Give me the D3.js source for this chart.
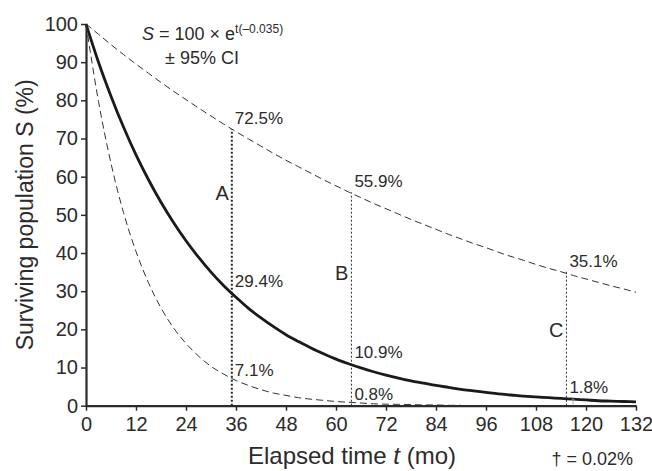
<!DOCTYPE html>
<html>
<head>
<meta charset="utf-8">
<script src="https://cdn.jsdelivr.net/npm/d3@7"></script>
<style>
  body { margin: 0; background: #fff; }
  svg { font-family: "Liberation Sans", Arial, sans-serif; display: block; }
  .axis text { fill: #2b2b2b; }
</style>
</head>
<body>
<script>
// months, every 3 months
var months = d3.range(0, 133, 3);
// fitted curve S = 100 x e^(-0.035t)
var survival = [100, 90.0, 81.1, 73.0, 65.7, 59.2, 53.3, 48.0, 43.2, 38.9, 35.0, 31.5, 28.4, 25.5, 23.0,
  20.7, 18.6, 16.8, 15.1, 13.6, 12.2, 11.0, 9.9, 8.9, 8.0, 7.2, 6.5, 5.9, 5.3, 4.8, 4.3, 3.9, 3.5, 3.1,
  2.8, 2.5, 2.3, 2.1, 1.9, 1.7, 1.5, 1.3, 1.2, 1.1, 1.0];
// upper 95% CI
var upperCI = [100, 97.3, 94.6, 92.0, 89.5, 87.1, 84.7, 82.4, 80.2, 78.0, 75.9, 73.8, 71.8, 69.9, 68.0,
  66.1, 64.3, 62.6, 60.9, 59.2, 57.6, 56.0, 54.5, 53.0, 51.6, 50.2, 48.8, 47.5, 46.2, 44.9, 43.7, 42.5,
  41.4, 40.2, 39.1, 38.1, 37.0, 36.0, 35.1, 34.1, 33.2, 32.3, 31.4, 30.6, 29.7];
// lower 95% CI (runs into the axis after ~90 mo)
var lowerCI = [100, 79.7, 63.5, 50.6, 40.4, 32.2, 25.6, 20.4, 16.3, 13.0, 10.3, 8.3, 6.6, 5.3, 4.2,
  3.3, 2.7, 2.1, 1.7, 1.4, 1.1, 0.9, 0.7, 0.5, 0.4, 0.35, 0.3, 0.2, 0.2, 0.1, 0.1];

// marked times A, B, C and values read at them
var markNames = ["A", "B", "C"];
var markTimes = [35, 63.7, 115.3];
var markUpper = [72.5, 55.9, 35.1];
var markMain = [29.4, 10.9, 1.8];
var markLower = [7.1, 0.8, 0.02];
var markLabelLevel = [54, 33, 18];

var xTicks = d3.range(0, 133, 12);
var yTicks = d3.range(0, 101, 10);

var W = 652, H = 471;
var ink = "#2b2b2b";

var x = d3.scaleLinear().domain([0, 132]).range([86, 636]);
var y = d3.scaleLinear().domain([0, 100]).range([405.7, 24]);

var svg = d3.select("body").append("svg")
  .attr("width", W)
  .attr("height", H);

var line = d3.line()
  .x(function (d) { return x(d[0]); })
  .y(function (d) { return y(d[1]); })
  .curve(d3.curveMonotoneX);

function pairs(vals) {
  return vals.map(function (v, i) { return [months[i], v]; });
}

// CI curves
svg.append("path")
  .attr("d", line(pairs(upperCI)))
  .attr("fill", "none")
  .attr("stroke", "#333")
  .attr("stroke-width", 1)
  .attr("stroke-dasharray", "7,4");

svg.append("path")
  .attr("d", line(pairs(lowerCI)))
  .attr("fill", "none")
  .attr("stroke", "#333")
  .attr("stroke-width", 1)
  .attr("stroke-dasharray", "7,4");

// vertical dotted markers
svg.selectAll(".mark")
  .data(markTimes)
  .enter()
  .append("line")
  .attr("class", "mark")
  .attr("x1", function (d) { return x(d); })
  .attr("x2", function (d) { return x(d); })
  .attr("y1", y(0))
  .attr("y2", function (d, i) { return y(markUpper[i]); })
  .attr("stroke", ink)
  .attr("stroke-width", function (d, i) { return i == 0 ? 2 : 1; })
  .attr("stroke-dasharray", "2,2");

// main curve
svg.append("path")
  .attr("d", line(pairs(survival)))
  .attr("fill", "none")
  .attr("stroke", "#1a1a1a")
  .attr("stroke-width", 2.8)
  .attr("stroke-linejoin", "round");

// axes
var xAxis = svg.append("g")
  .attr("class", "axis")
  .attr("transform", "translate(0," + y(0) + ")")
  .call(d3.axisBottom(x).tickValues(xTicks).tickSize(5).tickPadding(6).tickSizeOuter(0));
xAxis.select(".domain").attr("stroke", ink).attr("stroke-width", 2.2);
xAxis.selectAll(".tick line").attr("stroke", ink).attr("stroke-width", 1.5);
xAxis.selectAll("text").attr("font-size", 20).attr("font-family", "Liberation Sans, Arial");

var yAxis = svg.append("g")
  .attr("class", "axis")
  .attr("transform", "translate(" + x(0) + ",0)")
  .call(d3.axisLeft(y).tickValues(yTicks).tickSize(5).tickPadding(3).tickSizeOuter(0));
yAxis.select(".domain").attr("stroke", ink).attr("stroke-width", 2.2);
yAxis.selectAll(".tick line").attr("stroke", ink).attr("stroke-width", 1.5);
yAxis.selectAll("text").attr("font-size", 20).attr("font-family", "Liberation Sans, Arial");

// axis titles
svg.append("text")
  .attr("transform", "translate(33," + y(50) + ") rotate(-90)")
  .attr("text-anchor", "middle")
  .attr("font-size", 23)
  .attr("fill", ink)
  .text("Surviving population S (%)");

var xTitle = svg.append("text")
  .attr("x", x(66) - 9)
  .attr("y", 464)
  .attr("text-anchor", "middle")
  .attr("font-size", 24)
  .attr("fill", ink);
xTitle.append("tspan").text("Elapsed time ");
xTitle.append("tspan").attr("font-style", "italic").text("t");
xTitle.append("tspan").text(" (mo)");

svg.append("text")
  .attr("x", 633)
  .attr("y", 465)
  .attr("text-anchor", "end")
  .attr("font-size", 18)
  .attr("fill", ink)
  .text("\u2020 = 0.02%");

// formula
var f = svg.append("text")
  .attr("x", 142)
  .attr("y", 40)
  .attr("font-size", 18)
  .attr("fill", ink);
f.append("tspan").attr("font-style", "italic").text("S");
f.append("tspan").text(" = 100 \u00d7 e");
f.append("tspan").attr("font-size", 12).attr("dy", -7).text("t(\u20130.035)");

svg.append("text")
  .attr("x", 165)
  .attr("y", 64)
  .attr("font-size", 18)
  .attr("fill", ink)
  .text("\u00b1 95% CI");

// value labels
function pct(v) { return v.toFixed(1) + "%"; }
var labels = svg.append("g").attr("font-size", 17).attr("fill", ink);
markTimes.forEach(function (t, i) {
  labels.append("text")
    .attr("x", x(t) + 3)
    .attr("y", y(markUpper[i]) - 5)
    .text(pct(markUpper[i]));
  labels.append("text")
    .attr("x", x(t) + 3)
    .attr("y", y(markMain[i]) - 6)
    .text(pct(markMain[i]));
  if (i < 2) {
    labels.append("text")
      .attr("x", x(t) + 3)
      .attr("y", y(markLower[i]) - 3)
      .text(pct(markLower[i]));
  } else {
    labels.append("text")
      .attr("x", x(t) + 4)
      .attr("y", y(0) - 1)
      .attr("font-size", 9)
      .attr("fill", "#888")
      .text("\u2020");
  }
  labels.append("text")
    .attr("x", x(t) - 3)
    .attr("y", y(markLabelLevel[i]))
    .attr("text-anchor", "end")
    .attr("font-size", 20)
    .text(markNames[i]);
});
</script>
</body>
</html>
